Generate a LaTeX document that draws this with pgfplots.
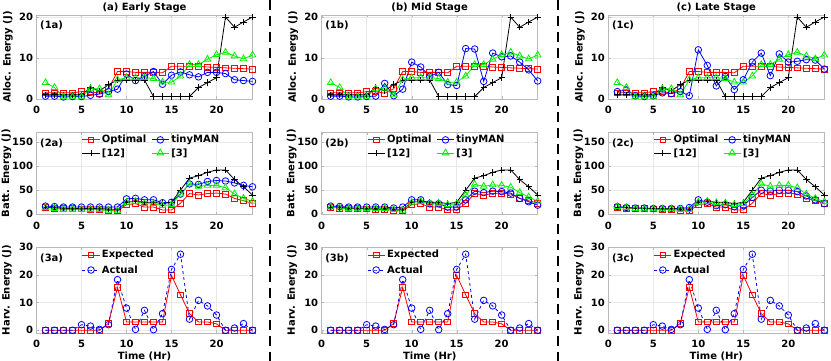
\documentclass[border=0pt]{standalone}
\usepackage{fontspec}
\setmainfont{DejaVu Sans}
\usepackage{pgfplots}
\usepackage{pgfplotstable}
\pgfplotsset{compat=1.18}

\definecolor{mred}{RGB}{255,0,0}
\definecolor{mblue}{RGB}{0,0,255}
\definecolor{mgreen}{RGB}{0,240,0}

\pgfplotstableread{
h opt tmA tmB tmC r12 r3
1 1.5 0.7 0.7 1.8 1.0 4.0
2 1.5 0.7 0.7 2.2 1.0 2.8
3 1.5 0.5 0.5 0.8 1.0 0.5
4 1.5 0.6 0.5 0.6 1.0 0.5
5 1.8 0.6 0.6 0.8 1.0 0.5
6 1.8 0.9 0.7 1.5 2.8 2.5
7 1.4 1.2 3.8 1.3 2.0 2.5
8 2.5 1.8 0.8 1.8 3.5 1.0
9 6.7 2.4 2.4 0.8 4.6 4.7
10 6.7 6.1 9.0 12.0 4.6 5.2
11 6.5 4.5 7.8 8.2 4.6 5.2
12 6.5 5.5 5.5 3.2 4.6 5.2
13 6.5 6.7 6.5 5.5 0.6 5.0
14 6.4 3.6 3.5 2.3 0.6 4.1
15 8.0 5.8 3.3 4.7 0.6 4.1
16 8.0 6.6 12.3 9.0 0.6 5.6
17 8.0 5.9 12.2 11.2 0.6 8.4
18 8.0 5.4 4.3 5.7 2.8 8.4
19 7.8 6.5 11.2 11.0 4.0 9.7
20 7.7 6.5 10.3 9.0 5.2 10.8
21 7.6 6.2 10.5 9.2 20.0 11.4
22 7.5 4.7 9.0 9.6 17.5 10.5
23 7.4 4.5 7.1 9.5 18.8 9.8
24 7.3 4.3 4.4 7.3 20.0 10.7
}\alloc

\pgfplotstableread{
h opt r12 tmA tmB tmC r3A r3B r3C
1 15 15 17 17 16 14 15 16
2 13 14 16 16 14 12 13 14
3 12 13 15 15 13 10 11 12
4 12 12 15 15 13 10 11 11
5 11 12 15 15 12 10 11 11
6 10 12 15 15 12 10 12 11
7 10 12 15 15 12 10 12 11
8 8 11 15 13 12 8 10 10
9 7 10 15 15 14 7 8 10
10 20 25 32 30 30 25 25 25
11 22 27 33 30 25 27 27 27
12 15 25 30 22 18 22 22 24
13 15 25 30 22 20 22 23 23
14 9 22 24 15 16 18 20 20
15 9 25 25 15 18 20 22 22
16 23 50 42 30 35 42 40 40
17 43 75 63 48 50 63 62 63
18 40 80 62 45 48 58 58 58
19 43 87 68 48 50 60 61 60
20 44 92 70 47 50 60 60 60
21 42 92 69 44 47 55 56 55
22 33 72 65 33 38 42 45 42
23 28 57 60 26 30 33 36 33
24 23 40 57 19 22 27 27 26
}\batt

\pgfplotstableread{
h exp act
1 0 0
2 0 0
3 0 0
4 0 0
5 0 2
6 0 1.5
7 0 0.3
8 2.5 2
9 15.5 18.3
10 3 8
11 3 0.3
12 3 7.2
13 3 0.2
14 3 6
15 19.8 22
16 12.8 27.5
17 6 4
18 3 10.8
19 3 8.8
20 2.3 5.5
21 0 0
22 0 0.8
23 0 2.4
24 0 0
}\harv

\newcommand{\bfs}{\fontsize{10}{12}\selectfont\bfseries}

\pgfplotsset{
 panel/.style={
  scale only axis, width=216pt, anchor=south west, clip=false,
  xmin=0, xmax=24, xtick={0,5,10,15,20},
  grid=major, grid style={gray!18, line width=0.5pt},
  axis line style={gray!55, line width=0.6pt},
  tick style={gray!55},
  major tick length=2.5pt,
  tick align=inside,
  ticklabel style={font=\bfs},
  /pgf/number format/assume math mode=true,
  label style={font=\bfs},
  title style={font=\bfs, anchor=center, yshift=1pt},
  legend style={draw=none, fill=none, font=\bfs, inner sep=0pt},
  legend cell align=left,
  every axis plot/.append style={line width=0.8pt},
  xticklabel style={yshift=-4pt},
 },
 opt/.style={mred, mark=square, mark size=2.9pt, mark options={solid}},
 tm/.style={mblue, mark=o, mark size=3.3pt, mark options={solid}},
 r12/.style={black, mark=+, mark size=3.2pt},
 r3/.style={mgreen, mark=triangle, mark size=3.8pt},
 row1/.style={height=84pt, ymin=0, ymax=20.5, ytick={0,10,20}, ylabel={Alloc. Energy (J)},
   ylabel style={at={(rel axis cs:0,0.5)}, anchor=center, yshift=28.5pt}},
 row2/.style={height=82pt, ymin=0, ymax=170, ytick={0,50,100,150}, ylabel={Batt. Energy (J)},
   ylabel style={at={(rel axis cs:0,0.5)}, anchor=center, yshift=30pt},
   legend columns=2, legend style={at={(0.21,0.99)}, anchor=north west, row sep=0pt},
   legend style={/tikz/every even column/.append style={column sep=3pt}}},
 row3/.style={height=85.7pt, ymin=-1, ymax=30, ytick={0,10,20,30}, ylabel={Harv. Energy (J)}, xlabel={Time (Hr)},
   ylabel style={at={(rel axis cs:0,0.5)}, anchor=center, yshift=29.5pt},
   xlabel style={at={(axis description cs:0.5,0)}, anchor=base, yshift=-27pt},
   legend style={at={(0.21,0.99)}, anchor=north west, row sep=2pt}},
}

\newcommand{\ptag}[1]{\node[anchor=north west, inner sep=0pt, font=\bfs, xshift=3.5pt, yshift=-6pt] at (rel axis cs:0,1) {#1};}

\begin{document}
\begin{tikzpicture}
\path[use as bounding box] (0,0) rectangle (831pt,361pt);

\draw[line width=2.6pt, dash pattern=on 10pt off 6pt] (270pt,361pt) -- (270pt,0pt);
\draw[line width=2.6pt, dash pattern=on 10pt off 6pt] (558pt,361pt) -- (558pt,0pt);

% ---------- Column a ----------
\begin{axis}[panel, row1, at={(36.5pt,262pt)}, title={(a) Early Stage}]
\addplot[opt] table[x=h,y=opt]{\alloc};
\addplot[tm] table[x=h,y=tmA]{\alloc};
\addplot[r12] table[x=h,y=r12]{\alloc};
\addplot[r3] table[x=h,y=r3]{\alloc};
\ptag{(1a)}
\end{axis}
\begin{axis}[panel, row2, at={(36.5pt,146.7pt)}]
\addplot[opt] table[x=h,y=opt]{\batt};
\addlegendentry{Optimal}
\addplot[tm] table[x=h,y=tmA]{\batt};
\addlegendentry{tinyMAN}
\addplot[r12] table[x=h,y=r12]{\batt};
\addlegendentry{{}[12]}
\addplot[r3] table[x=h,y=r3A]{\batt};
\addlegendentry{{}[3]}
\ptag{(2a)}
\end{axis}
\begin{axis}[panel, row3, at={(36.5pt,28pt)}]
\addplot[opt] table[x=h,y=exp]{\harv};
\addlegendentry{Expected}
\addplot[tm, dashed] table[x=h,y=act]{\harv};
\addlegendentry{Actual}
\ptag{(3a)}
\end{axis}

% ---------- Column b ----------
\begin{axis}[panel, row1, at={(321.7pt,262pt)}, title={(b) Mid Stage}]
\addplot[opt] table[x=h,y=opt]{\alloc};
\addplot[tm] table[x=h,y=tmB]{\alloc};
\addplot[r12] table[x=h,y=r12]{\alloc};
\addplot[r3] table[x=h,y=r3]{\alloc};
\ptag{(1b)}
\end{axis}
\begin{axis}[panel, row2, at={(321.7pt,146.7pt)}]
\addplot[opt] table[x=h,y=opt]{\batt};
\addlegendentry{Optimal}
\addplot[tm] table[x=h,y=tmB]{\batt};
\addlegendentry{tinyMAN}
\addplot[r12] table[x=h,y=r12]{\batt};
\addlegendentry{{}[12]}
\addplot[r3] table[x=h,y=r3B]{\batt};
\addlegendentry{{}[3]}
\ptag{(2b)}
\end{axis}
\begin{axis}[panel, row3, at={(321.7pt,28pt)}]
\addplot[opt] table[x=h,y=exp]{\harv};
\addlegendentry{Expected}
\addplot[tm, dashed] table[x=h,y=act]{\harv};
\addlegendentry{Actual}
\ptag{(3b)}
\end{axis}

% ---------- Column c ----------
\begin{axis}[panel, row1, at={(608.3pt,262pt)}, title={(c) Late Stage}]
\addplot[opt] table[x=h,y=opt]{\alloc};
\addplot[tm] table[x=h,y=tmC]{\alloc};
\addplot[r12] table[x=h,y=r12]{\alloc};
\addplot[r3] table[x=h,y=r3]{\alloc};
\ptag{(1c)}
\end{axis}
\begin{axis}[panel, row2, at={(608.3pt,146.7pt)}]
\addplot[opt] table[x=h,y=opt]{\batt};
\addlegendentry{Optimal}
\addplot[tm] table[x=h,y=tmC]{\batt};
\addlegendentry{tinyMAN}
\addplot[r12] table[x=h,y=r12]{\batt};
\addlegendentry{{}[12]}
\addplot[r3] table[x=h,y=r3C]{\batt};
\addlegendentry{{}[3]}
\ptag{(2c)}
\end{axis}
\begin{axis}[panel, row3, at={(608.3pt,28pt)}]
\addplot[opt] table[x=h,y=exp]{\harv};
\addlegendentry{Expected}
\addplot[tm, dashed] table[x=h,y=act]{\harv};
\addlegendentry{Actual}
\ptag{(3c)}
\end{axis}
\end{tikzpicture}
\end{document}
